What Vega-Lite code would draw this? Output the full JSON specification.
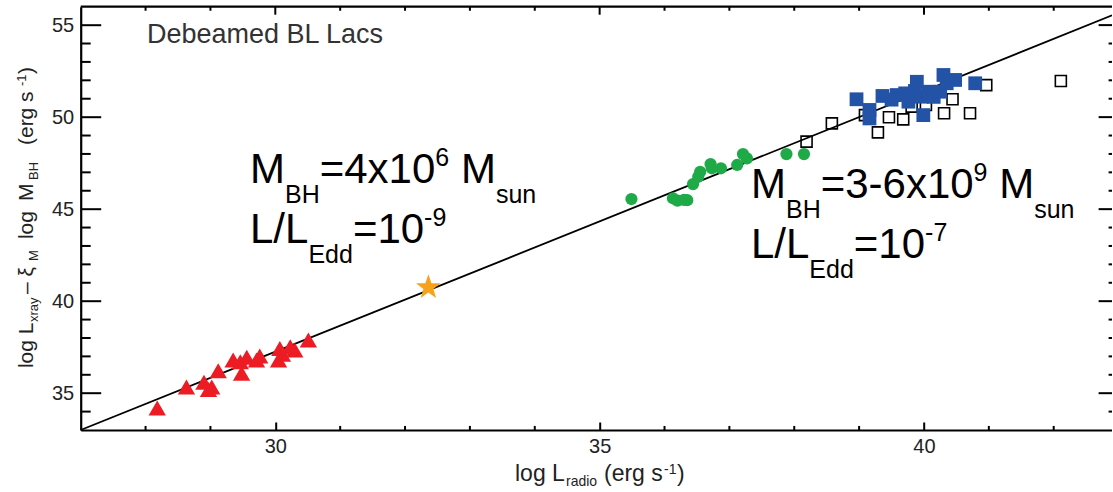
{
  "$schema": "https://vega.github.io/schema/vega-lite/v6.json",
  "width": 1031.4,
  "height": 423.3,
  "autosize": "none",
  "padding": {"left": 80.7, "top": 6.7, "right": 0, "bottom": 62},
  "config": {"view": {"stroke": null}, "aria": false},
  "datasets": {
    "fit": [{"x": 27, "y": 33.0}, {"x": 42.9, "y": 55.53}],
    "red": [{"x":28.18,"y":34.19},{"x":28.63,"y":35.33},{"x":28.90,"y":35.60},{"x":29.02,"y":35.33},{"x":28.97,"y":35.2},{"x":29.12,"y":36.22},{"x":29.35,"y":36.80},{"x":29.48,"y":36.08},{"x":29.56,"y":36.95},{"x":29.46,"y":36.71},{"x":29.71,"y":36.80},{"x":29.76,"y":37.02},{"x":30.07,"y":37.43},{"x":30.05,"y":36.80},{"x":30.11,"y":37.12},{"x":30.23,"y":37.52},{"x":30.30,"y":37.34},{"x":30.51,"y":37.89}],
    "green": [{"x":35.49,"y":45.55},{"x":36.13,"y":45.59},{"x":36.20,"y":45.46},{"x":36.35,"y":45.49},{"x":36.30,"y":45.5},{"x":36.44,"y":46.36},{"x":36.52,"y":46.76},{"x":36.55,"y":47.03},{"x":36.71,"y":47.45},{"x":36.73,"y":47.22},{"x":36.87,"y":47.22},{"x":37.12,"y":47.40},{"x":37.21,"y":47.99},{"x":37.27,"y":47.76},{"x":37.88,"y":47.99},{"x":38.15,"y":47.99}],
    "open": [{"x":38.19,"y":48.67},{"x":38.58,"y":49.66},{"x":39.09,"y":50.11},{"x":39.29,"y":49.17},{"x":39.46,"y":49.99},{"x":39.68,"y":49.88},{"x":39.81,"y":50.57},{"x":40.03,"y":50.66},{"x":40.31,"y":50.21},{"x":40.44,"y":50.97},{"x":40.71,"y":50.21},{"x":40.96,"y":51.74},{"x":42.11,"y":51.96}],
    "blue": [{"x":38.96,"y":50.97},{"x":39.16,"y":50.39},{"x":39.16,"y":49.93},{"x":39.36,"y":51.15},{"x":39.58,"y":51.20},{"x":39.71,"y":51.29},{"x":39.76,"y":50.84},{"x":39.89,"y":51.92},{"x":39.96,"y":51.11},{"x":39.99,"y":50.11},{"x":40.07,"y":51.38},{"x":40.25,"y":51.38},{"x":40.30,"y":52.29},{"x":40.48,"y":52.02},{"x":40.79,"y":51.84},{"x":40.35,"y":51.84},{"x":39.86,"y":51.42},{"x":40.15,"y":51.1},{"x":39.5,"y":50.95}],
    "star": [{"x":32.36,"y":40.75}],
    "xmajor": [{"v": 30}, {"v": 35}, {"v": 40}],
    "xminor": [{"v":28},{"v":29},{"v":31},{"v":32},{"v":33},{"v":34},{"v":36},{"v":37},{"v":38},{"v":39},{"v":41},{"v":42}],
    "xedge": [{"v": 27}, {"v": 42.9}],
    "ymajor": [{"v": 35}, {"v": 40}, {"v": 45}, {"v": 50}, {"v": 55}],
    "yminor": [{"v":34},{"v":36},{"v":37},{"v":38},{"v":39},{"v":41},{"v":42},{"v":43},{"v":44},{"v":46},{"v":47},{"v":48},{"v":49},{"v":51},{"v":52},{"v":53},{"v":54}],
    "panel": [{"t": "Debeamed BL Lacs", "x": 28.022, "y": 54.03}],
    "big": [{"t":"M","x":29.610,"y":46.418},{"t":"=4x10","x":30.684,"y":46.418},{"t":"M","x":32.861,"y":46.418},
            {"t":"L/L","x":29.610,"y":43.158},{"t":"=10","x":31.196,"y":43.158},
            {"t":"M","x":37.333,"y":45.603},{"t":"=3-6x10","x":38.408,"y":45.603},{"t":"M","x":41.159,"y":45.603},
            {"t":"L/L","x":37.333,"y":42.342},{"t":"=10","x":38.919,"y":42.342}],
    "small": [{"t":"BH","x":30.149,"y":45.332},{"t":"6","x":32.466,"y":47.342},{"t":"sun","x":33.401,"y":45.332},
              {"t":"Edd","x":30.510,"y":42.071},{"t":"-9","x":32.294,"y":44.082},
              {"t":"BH","x":37.873,"y":44.516},{"t":"9","x":40.765,"y":46.527},{"t":"sun","x":41.699,"y":44.516},
              {"t":"Edd","x":38.233,"y":41.255},{"t":"-7","x":40.017,"y":43.266}],
    "xt_main": [{"t":"log L","x":33.695,"y":30.23},{"t":"(erg s","x":35.067,"y":30.23},{"t":")","x":36.192,"y":30.23}],
    "xt_small": [{"t":"radio","x":34.481,"y":29.96},{"t":"-1","x":35.992,"y":30.61}],
    "yt_main": [{"t":"log L","x":26.265,"y":36.364},{"t":"– ξ","x":26.265,"y":40.386},{"t":"log","x":26.265,"y":43.375},{"t":"M","x":26.265,"y":45.44},{"t":"(erg s","x":26.265,"y":48.484},{"t":")","x":26.265,"y":52.342}],
    "yt_small": [{"t":"xray","x":26.342,"y":38.864},{"t":"M","x":26.342,"y":42.179},{"t":"BH","x":26.342,"y":46.582},{"t":"-1","x":26.157,"y":51.69}]
  },
  "layer": [
    {
      "data": {"name": "fit"},
      "mark": {"type": "line", "color": "black", "strokeWidth": 1.8},
      "encoding": {
        "x": {"field": "x", "type": "quantitative",
          "scale": {"domain": [27, 42.9], "nice": false, "zero": false},
          "axis": {"orient": "bottom", "title": null, "grid": false, "format": "d",
            "values": [30, 35, 40],
            "tickSize": -8, "tickWidth": 2, "tickColor": "black",
            "domainColor": "black", "domainWidth": 2.2,
            "labelFont": "Liberation Sans", "labelFontSize": 20, "labelColor": "#222", "labelPadding": 15}},
        "y": {"field": "y", "type": "quantitative",
          "scale": {"domain": [33, 56], "nice": false, "zero": false},
          "axis": {"orient": "left", "title": null, "grid": false, "format": "d",
            "values": [35, 40, 45, 50, 55],
            "tickSize": -20, "tickWidth": 2, "tickColor": "black",
            "domainColor": "black", "domainWidth": 2.2,
            "labelFont": "Liberation Sans", "labelFontSize": 20, "labelColor": "#222", "labelPadding": 27}}
      }
    },
    {"data": {"name": "xminor"}, "mark": {"type": "rule", "color": "black", "strokeWidth": 2},
     "encoding": {"x": {"field": "v", "type": "quantitative"}, "y": {"datum": 33, "type": "quantitative"}, "y2": {"datum": 33.22}}},
    {"data": {"name": "xmajor"}, "mark": {"type": "rule", "color": "black", "strokeWidth": 2},
     "encoding": {"x": {"field": "v", "type": "quantitative"}, "y": {"datum": 56, "type": "quantitative"}, "y2": {"datum": 55.565}}},
    {"data": {"name": "xminor"}, "mark": {"type": "rule", "color": "black", "strokeWidth": 2},
     "encoding": {"x": {"field": "v", "type": "quantitative"}, "y": {"datum": 56, "type": "quantitative"}, "y2": {"datum": 55.78}}},
    {"data": {"name": "xedge"}, "mark": {"type": "line", "color": "black", "strokeWidth": 2.2},
     "encoding": {"x": {"field": "v", "type": "quantitative"}, "y": {"datum": 56, "type": "quantitative"}}},
    {"data": {"name": "yminor"}, "mark": {"type": "rule", "color": "black", "strokeWidth": 2},
     "encoding": {"y": {"field": "v", "type": "quantitative"}, "x": {"datum": 27, "type": "quantitative"}, "x2": {"datum": 27.154}}},
    {"data": {"name": "ymajor"}, "mark": {"type": "rule", "color": "black", "strokeWidth": 2},
     "encoding": {"y": {"field": "v", "type": "quantitative"}, "x": {"datum": 42.692, "type": "quantitative"}, "x2": {"datum": 42.9}}},
    {"data": {"name": "yminor"}, "mark": {"type": "rule", "color": "black", "strokeWidth": 2},
     "encoding": {"y": {"field": "v", "type": "quantitative"}, "x": {"datum": 42.846, "type": "quantitative"}, "x2": {"datum": 42.9}}},
    {
      "data": {"name": "open"},
      "mark": {"type": "point", "shape": "square", "filled": false, "stroke": "black", "strokeWidth": 1.6, "size": 121, "opacity": 1},
      "encoding": {"x": {"field": "x", "type": "quantitative"}, "y": {"field": "y", "type": "quantitative"}}
    },
    {
      "data": {"name": "blue"},
      "mark": {"type": "point", "shape": "square", "filled": true, "color": "#2353A6", "size": 190, "opacity": 1},
      "encoding": {"x": {"field": "x", "type": "quantitative"}, "y": {"field": "y", "type": "quantitative"}}
    },
    {
      "data": {"name": "green"},
      "mark": {"type": "point", "shape": "circle", "filled": true, "color": "#1FAA48", "size": 150, "opacity": 1},
      "encoding": {"x": {"field": "x", "type": "quantitative"}, "y": {"field": "y", "type": "quantitative"}}
    },
    {
      "data": {"name": "red"},
      "mark": {"type": "point", "shape": "triangle-up", "filled": true, "color": "#ED1C24", "size": 300, "opacity": 1},
      "encoding": {"x": {"field": "x", "type": "quantitative"}, "y": {"field": "y", "type": "quantitative"}}
    },
    {
      "data": {"name": "star"},
      "mark": {"type": "point", "shape": "M0,-1L0.235,-0.324L0.951,-0.309L0.38,0.124L0.588,0.809L0,0.4L-0.588,0.809L-0.38,0.124L-0.951,-0.309L-0.235,-0.324Z", "filled": true, "color": "#F7A21B", "size": 680, "opacity": 1},
      "encoding": {"x": {"field": "x", "type": "quantitative"}, "y": {"field": "y", "type": "quantitative"}}
    },
    {"data": {"name": "panel"}, "mark": {"type": "text", "font": "Liberation Sans", "fontSize": 27, "color": "#333", "align": "left", "baseline": "alphabetic"},
     "encoding": {"text": {"field": "t", "type": "nominal"}, "x": {"field": "x", "type": "quantitative"}, "y": {"field": "y", "type": "quantitative"}}},
    {"data": {"name": "big"}, "mark": {"type": "text", "font": "Liberation Sans", "fontSize": 42, "color": "black", "align": "left", "baseline": "alphabetic"},
     "encoding": {"text": {"field": "t", "type": "nominal"}, "x": {"field": "x", "type": "quantitative"}, "y": {"field": "y", "type": "quantitative"}}},
    {"data": {"name": "small"}, "mark": {"type": "text", "font": "Liberation Sans", "fontSize": 25, "color": "black", "align": "left", "baseline": "alphabetic"},
     "encoding": {"text": {"field": "t", "type": "nominal"}, "x": {"field": "x", "type": "quantitative"}, "y": {"field": "y", "type": "quantitative"}}},
    {"data": {"name": "xt_main"}, "mark": {"type": "text", "font": "Liberation Sans", "fontSize": 23, "color": "#222", "align": "left", "baseline": "alphabetic"},
     "encoding": {"text": {"field": "t", "type": "nominal"}, "x": {"field": "x", "type": "quantitative"}, "y": {"field": "y", "type": "quantitative"}}},
    {"data": {"name": "xt_small"}, "mark": {"type": "text", "font": "Liberation Sans", "fontSize": 14, "color": "#222", "align": "left", "baseline": "alphabetic"},
     "encoding": {"text": {"field": "t", "type": "nominal"}, "x": {"field": "x", "type": "quantitative"}, "y": {"field": "y", "type": "quantitative"}}},
    {"data": {"name": "yt_main"}, "mark": {"type": "text", "font": "Liberation Sans", "fontSize": 21, "angle": 270, "color": "#222", "align": "left", "baseline": "alphabetic"},
     "encoding": {"text": {"field": "t", "type": "nominal"}, "x": {"field": "x", "type": "quantitative"}, "y": {"field": "y", "type": "quantitative"}}},
    {"data": {"name": "yt_small"}, "mark": {"type": "text", "font": "Liberation Sans", "fontSize": 13, "angle": 270, "color": "#222", "align": "left", "baseline": "alphabetic"},
     "encoding": {"text": {"field": "t", "type": "nominal"}, "x": {"field": "x", "type": "quantitative"}, "y": {"field": "y", "type": "quantitative"}}}
  ]
}
